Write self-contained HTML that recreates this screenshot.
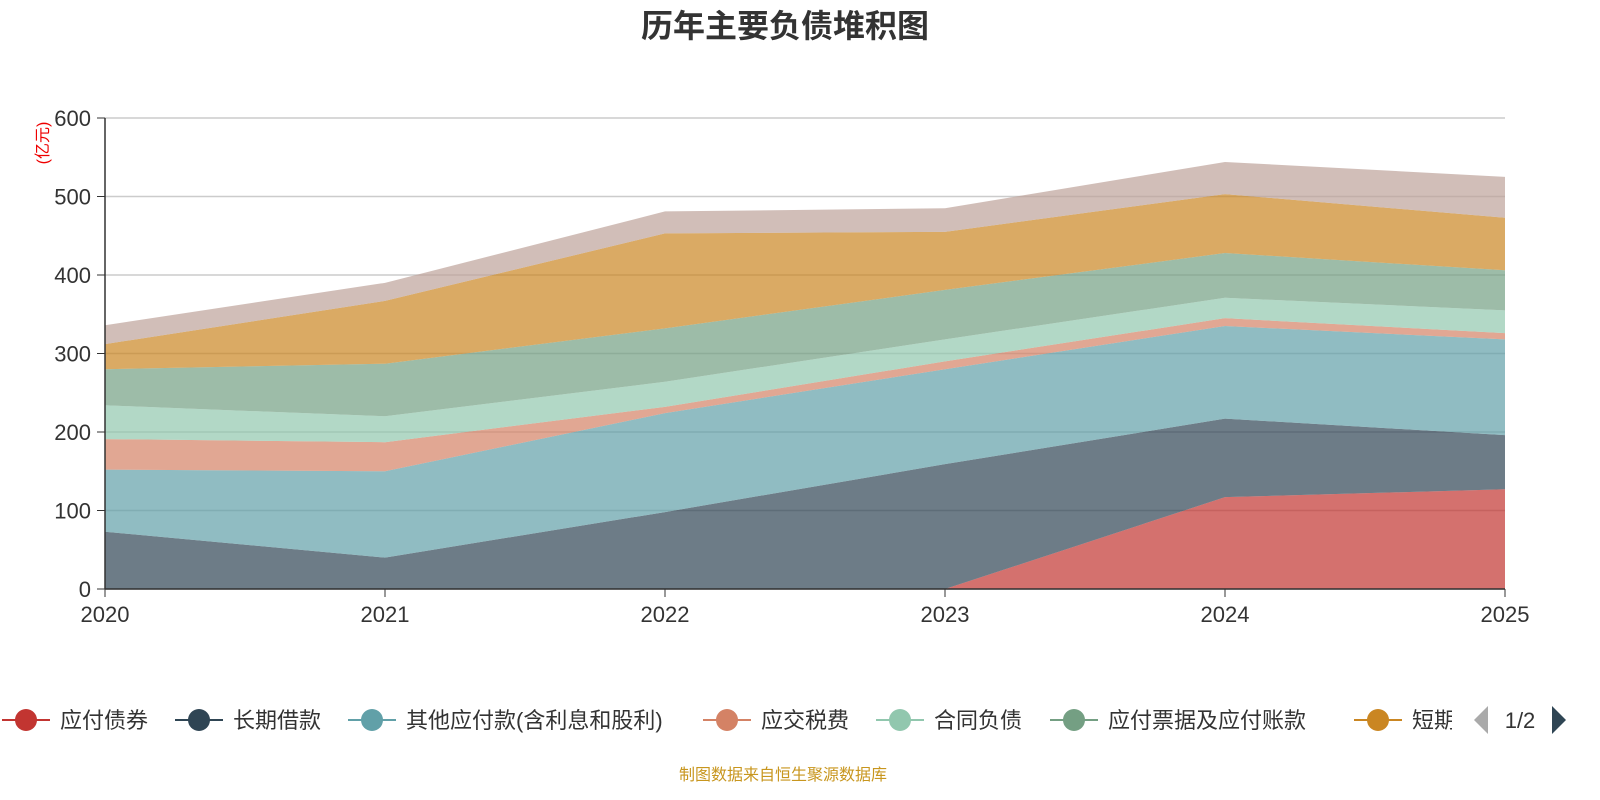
<!DOCTYPE html>
<html><head><meta charset="utf-8"><style>
html,body{margin:0;padding:0;background:#fff;width:1600px;height:800px;overflow:hidden;}
svg{display:block;}
svg text{font-family:"Liberation Sans","Noto Sans CJK SC",sans-serif;}
</style></head><body>
<svg id="chart" width="1600" height="800" xmlns="http://www.w3.org/2000/svg">
<defs><clipPath id="legclip"><rect x="0" y="690" width="1452" height="60"/></clipPath></defs>
<text x="785" y="37" text-anchor="middle" font-size="32" font-weight="bold" fill="#333">历年主要负债堆积图</text>
<text transform="translate(48,143) rotate(-90)" text-anchor="middle" font-size="16" fill="#e00">(亿元)</text>
<g id="grid"></g><g id="areas"></g><g id="axes"></g>
<g id="legend" clip-path="url(#legclip)"></g>
<path d="M1488 706 L1488 734 L1474 720 Z" fill="#aaa"/>
<text x="1520" y="728" text-anchor="middle" font-size="22" fill="#333">1/2</text>
<path d="M1552 706 L1552 734 L1566 720 Z" fill="#2f4554"/>
<text x="783" y="780" text-anchor="middle" font-size="16" fill="#c8961e">制图数据来自恒生聚源数据库</text>
</svg>
<script>
const years=['2020','2021','2022','2023','2024','2025'];
const seriesNames=['应付债券','长期借款','其他应付款(含利息和股利)','应交税费','合同负债','应付票据及应付账款','短期借款','其他'];
const s0=[0,0,0,0,117,127];
const s1=[73,40,98,159,100,69];
const s2=[79,110,126,121,118,122];
const s3=[39,37,8,10,10,8];
const s4=[43,33,32,28,26,29];
const s5=[46,67,68,63,57,51];
const s6=[32,80,121,74,75,67];
const s7=[24,23,28,30,41,52];
const yTicks=[0,100,200,300,400,500,600];
const series=[s0,s1,s2,s3,s4,s5,s6,s7];
const colors=['#c23531','#2f4554','#61a0a8','#d48265','#91c7ae','#749f83','#ca8622','#bda29a'];
const NS='http://www.w3.org/2000/svg';
const X0=105,X1=1505,Y0=589,Y1=118;
const xs=i=>X0+(X1-X0)*i/(years.length-1);
const ys=v=>Y0-(Y0-Y1)*v/600;
function mk(t,a,p){const e=document.createElementNS(NS,t);for(const k in a)e.setAttribute(k,a[k]);p.appendChild(e);return e;}
const grid=document.getElementById('grid'),areas=document.getElementById('areas'),axes=document.getElementById('axes'),legend=document.getElementById('legend');
yTicks.forEach(v=>{
 const l=mk('line',{x1:X0,x2:X1,y1:ys(v),y2:ys(v),stroke:'#ccc','stroke-width':1.5},grid);
 
 
 const tk=mk('line',{x1:X0-8,x2:X0,y1:ys(v),y2:ys(v),stroke:'#333'},axes);
 
 
 const t=mk('text',{x:X0-14,y:ys(v)+8,'text-anchor':'end','font-size':22,fill:'#333'},axes);t.textContent=v;
 
 
});
let base=years.map(()=>0);
series.forEach((s,k)=>{
 const top=base.map((b,i)=>b+s[i]);
 let d='';
 top.forEach((v,i)=>d+=(i?'L':'M')+xs(i)+' '+ys(v)+' ');
 for(let i=years.length-1;i>=0;i--)d+='L'+xs(i)+' '+ys(base[i])+' ';
 const p=mk('path',{d:d+'Z',fill:colors[k],'fill-opacity':0.7},areas);
 
 
 base=top;
});
mk('line',{x1:X0,x2:X0,y1:Y1,y2:Y0,stroke:'#333','stroke-width':1.5},axes);
mk('line',{x1:X0,x2:X1,y1:Y0,y2:Y0,stroke:'#333','stroke-width':1.5},axes);
years.forEach((y,i)=>{
 mk('line',{x1:xs(i),x2:xs(i),y1:Y0,y2:Y0+8,stroke:'#333'},axes);
 const t=mk('text',{x:xs(i),y:622,'text-anchor':'middle','font-size':22,fill:'#333'},axes);t.textContent=y;
 
 
});
const lx=[2,175,348,703,876,1050,1354];
lx.forEach((x,k)=>{
 const g=mk('g',{},legend);
 
 
 mk('line',{x1:x,x2:x+48,y1:720,y2:720,stroke:colors[k],'stroke-width':2},g);
 mk('circle',{cx:x+24,cy:720,r:11,fill:colors[k]},g);
 const t=mk('text',{x:x+58,y:728,'font-size':22,fill:'#333'},g);
 t.textContent=seriesNames[k];
});
</script>
</body></html>
